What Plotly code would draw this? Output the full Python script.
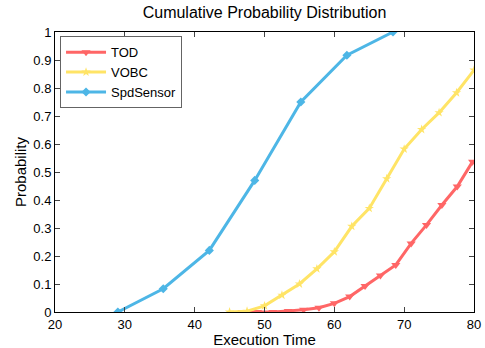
import plotly.graph_objects as go

tod_x = [46.8, 49.0, 51.2, 53.4, 55.6, 57.8, 60.0, 62.2, 64.4, 66.6, 68.8, 71.0, 73.2, 75.4, 77.6, 79.8]
tod_y = [0, 0, 0, 0.004, 0.008, 0.015, 0.031, 0.055, 0.093, 0.13, 0.168, 0.245, 0.311, 0.382, 0.448, 0.537]

vobc_x = [45, 47.5, 50, 52.5, 55, 57.5, 60, 62.5, 65, 67.5, 70, 72.5, 75, 77.5, 80]
vobc_y = [0, 0.003, 0.022, 0.06, 0.10, 0.154, 0.215, 0.306, 0.37, 0.476, 0.582, 0.652, 0.712, 0.783, 0.864]

spd_x = [29, 35.5, 42.1, 48.6, 55.2, 61.8, 68.4]
spd_y = [0, 0.083, 0.22, 0.47, 0.75, 0.917, 1.0]

x_ticks = [20, 30, 40, 50, 60, 70, 80]
y_ticks = [0, 0.1, 0.2, 0.3, 0.4, 0.5, 0.6, 0.7, 0.8, 0.9, 1]
y_tick_labels = ["0", "0.1", "0.2", "0.3", "0.4", "0.5", "0.6", "0.7", "0.8", "0.9", "1"]

fig = go.Figure()
fig.add_trace(go.Scatter(x=tod_x, y=tod_y, name="TOD", mode="lines+markers",
                         line=dict(color="rgb(255,102,102)", width=3),
                         marker=dict(symbol="triangle-down", size=8, color="rgb(255,102,102)")))
fig.add_trace(go.Scatter(x=vobc_x, y=vobc_y, name="VOBC", mode="lines+markers",
                         line=dict(color="rgb(255,228,102)", width=3),
                         marker=dict(symbol="star", size=7, color="rgb(255,228,102)")))
fig.add_trace(go.Scatter(x=spd_x, y=spd_y, name="SpdSensor", mode="lines+markers",
                         line=dict(color="rgb(77,182,230)", width=3),
                         marker=dict(symbol="diamond", size=7, color="rgb(77,182,230)")))

font = "Liberation Sans, Arial, sans-serif"
fig.update_layout(
    width=485, height=348,
    margin=dict(l=55, r=11, t=32, b=36, autoexpand=False),
    paper_bgcolor="white", plot_bgcolor="white",
    font=dict(family=font, size=13, color="black"),
    title=dict(text="Cumulative Probability Distribution", xref="paper", x=0.5, xanchor="center",
               y=0.965, yanchor="middle", font=dict(size=16, family=font)),
    legend=dict(x=0.012, y=0.985, xanchor="left", yanchor="top",
                bgcolor="white", bordercolor="rgb(100,100,100)", borderwidth=1,
                font=dict(size=13), tracegroupgap=0, itemwidth=40),
    showlegend=True,
)
fig.update_xaxes(range=[20, 80], tickvals=x_ticks, ticks="inside", ticklen=5,
                 showline=True, linecolor="black", linewidth=1, mirror="ticks",
                 showgrid=False, zeroline=False, automargin=False,
                 title=dict(text="Execution Time", font=dict(size=15), standoff=1))
fig.update_yaxes(range=[0, 1], tickvals=y_ticks, ticktext=y_tick_labels, ticks="inside", ticklen=5,
                 showline=True, linecolor="black", linewidth=1, mirror="ticks",
                 showgrid=False, zeroline=False, automargin=False,
                 title=dict(text="Probability", font=dict(size=15), standoff=3))

fig.write_html("out.html")
